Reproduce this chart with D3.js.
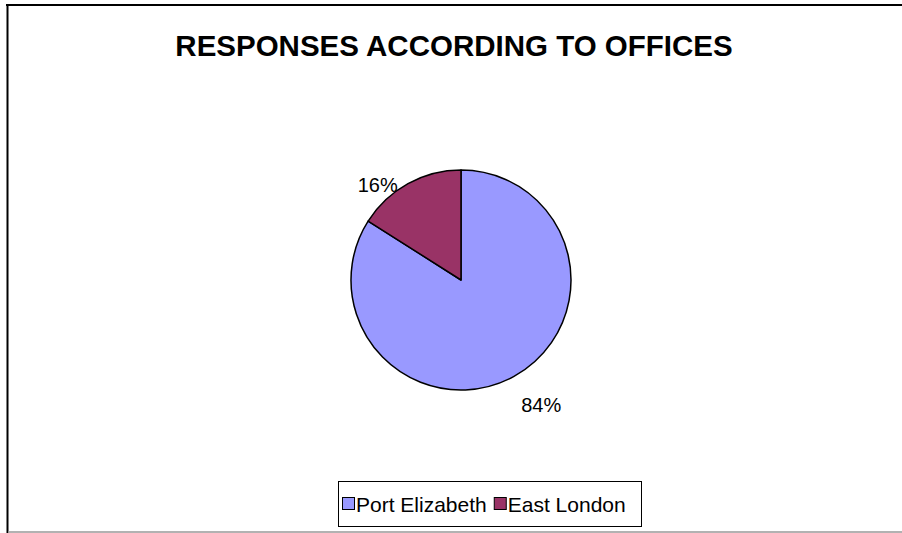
<!DOCTYPE html>
<html>
<head>
<meta charset="utf-8">
<script src="https://cdn.jsdelivr.net/npm/d3@7"></script>
<style>
  html, body { margin: 0; padding: 0; background: #fff; }
  svg { display: block; font-family: "Liberation Sans", Arial, sans-serif; }
</style>
</head>
<body>
<svg id="chart" width="902" height="533"></svg>
<script>
// Survey responses split by office
const offices = ["Port Elizabeth", "East London"];
const shares = [84, 16];
const sliceColors = ["#9999FF", "#993366"];
const chartTitle = "RESPONSES ACCORDING TO OFFICES";

const svg = d3.select("#chart");
const W = 902, H = 533;

// frame: heavy top and left rules, light rule along the bottom
svg.append("line").attr("x1", 6).attr("x2", W).attr("y1", 5).attr("y2", 5)
  .attr("stroke", "#000").attr("stroke-width", 2);
svg.append("line").attr("x1", 7.5).attr("x2", 7.5).attr("y1", 4).attr("y2", H)
  .attr("stroke", "#000").attr("stroke-width", 2);
svg.append("line").attr("x1", 8).attr("x2", W).attr("y1", 532).attr("y2", 532)
  .attr("stroke", "#999").attr("stroke-width", 1.5);

// title
svg.append("text")
  .attr("x", 454).attr("y", 56)
  .attr("text-anchor", "middle")
  .attr("font-size", 29.5).attr("font-weight", "bold")
  .text(chartTitle);

// pie
const cx = 461, cy = 280, R = 110;
const pie = d3.pie().sort(null).value(d => d);
const arcs = pie(shares);
const arc = d3.arc().innerRadius(0).outerRadius(R);
const labelArc = d3.arc().innerRadius(125).outerRadius(125);
const color = d3.scaleOrdinal().domain(offices).range(sliceColors);

const g = svg.append("g").attr("transform", `translate(${cx},${cy})`);
g.selectAll("path.slice").data(arcs).join("path")
  .attr("class", "slice")
  .attr("d", arc)
  .attr("fill", (d, i) => color(offices[i]))
  .attr("stroke", "#000").attr("stroke-width", 1.5)
  .attr("stroke-linejoin", "round");

const leftSide = d => (d.startAngle + d.endAngle) / 2 > Math.PI;
g.selectAll("text.pct").data(arcs).join("text")
  .attr("class", "pct")
  .attr("font-size", 20)
  .attr("text-anchor", d => (leftSide(d) ? "end" : "start"))
  .attr("x", d => labelArc.centroid(d)[0] + (leftSide(d) ? -3 : 0))
  .attr("y", d => labelArc.centroid(d)[1] + 22)
  .text(d => d.data + "%");

// legend
const lg = svg.append("g");
lg.append("rect")
  .attr("x", 338.5).attr("y", 481.5).attr("width", 303).attr("height", 45)
  .attr("fill", "#fff").attr("stroke", "#000").attr("stroke-width", 1);

let lx = 342;
offices.forEach((name, i) => {
  lg.append("rect")
    .attr("x", lx + 0.5).attr("y", 497.5).attr("width", 12).attr("height", 12)
    .attr("fill", color(name)).attr("stroke", "#000").attr("stroke-width", 1);
  const t = lg.append("text")
    .attr("x", lx + 14).attr("y", 512)
    .attr("font-size", 21)
    .text(name);
  lx += 14 + t.node().getComputedTextLength() + 7;
});
</script>
</body>
</html>
